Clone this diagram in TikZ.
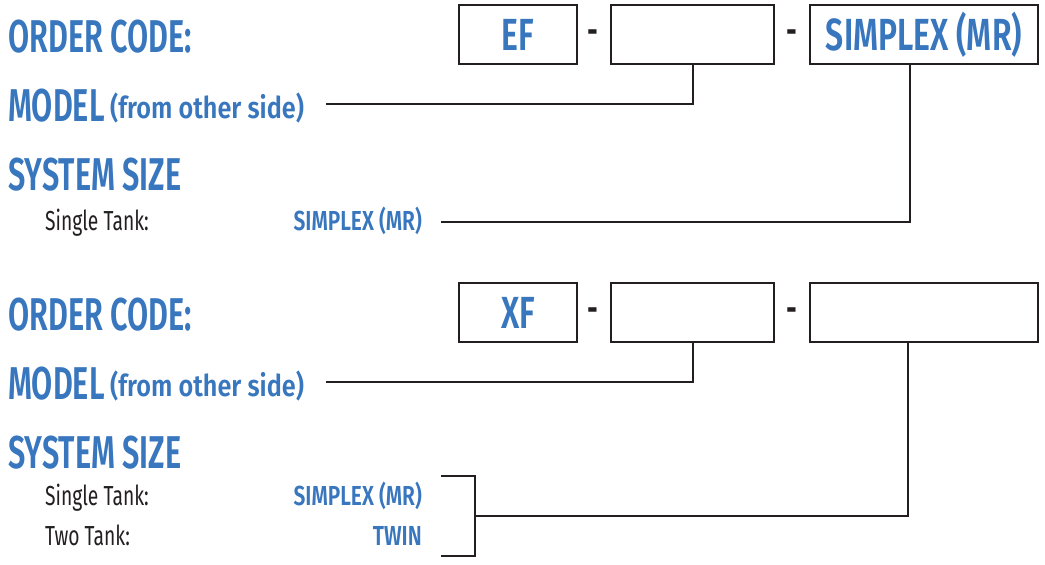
\documentclass[tikz,border=0pt]{standalone}
\usepackage{fontspec}
\setmainfont{Fira Sans}
\newfontfamily\hdfont{Fira Sans SemiBold}[FakeStretch=0.665]
\newfontfamily\subfont{Fira Sans SemiBold}[FakeStretch=0.84]
\newfontfamily\boxfont{Fira Sans SemiBold}[FakeStretch=0.71]
\newfontfamily\optfont{Fira Sans SemiBold}[FakeStretch=0.76]
\newfontfamily\smfont{Fira Sans}[FakeStretch=0.70]
\definecolor{dinblue}{RGB}{56,118,190}
\definecolor{ink}{RGB}{35,31,32}
\begin{document}
\begin{tikzpicture}[x=1pt,y=-1pt,
  hd/.style={font=\hdfont\fontsize{46}{46}\selectfont, text=dinblue, anchor=base west, inner sep=0pt},
  sub/.style={font=\subfont\fontsize{30}{30}\selectfont, text=dinblue, anchor=base west, inner sep=0pt},
  lbl/.style={font=\smfont\fontsize{27.5}{27.5}\selectfont, text=ink, anchor=base west, inner sep=0pt},
  opt/.style={font=\optfont\fontsize{27.5}{27.5}\selectfont, text=dinblue, anchor=base east, inner sep=0pt},
  codebox/.style={draw=ink, line width=2pt, minimum height=59pt, inner sep=0pt,
     font=\boxfont\fontsize{45}{45}\selectfont, text=dinblue, text height=31pt, text depth=0pt},
  sepmark/.style={font=\hdfont\fontsize{40}{40}\selectfont, text=ink, inner sep=0pt},
  conn/.style={draw=ink, line width=2pt}]
\useasboundingbox (0,0) rectangle (1045,565);

% ---------- block 1 ----------
\node[hd] (oc1) at (8,52) {ORDER CODE:};
\node[codebox, minimum width=118pt] (a1) at (518,34.5) {EF};
\node[sepmark] (d1a) at (593,37) {-};
\node[codebox, minimum width=163pt] (a2) at (692.5,34.5) {};
\node[sepmark] (d1b) at (792,37) {-};
\node[codebox, minimum width=228pt] (a3) at (924,34.5) {SIMPLEX (MR)};

\node[hd] (mo1) at (8,121) {MODEL};
\node[sub] (fo1) at (110,118) {(from other side)};
\node[hd] (ss1) at (8,190) {SYSTEM SIZE};
\node[lbl] (st1) at (45,230) {Single Tank:};
\node[opt] (sp1) at (422,230) {SIMPLEX (MR)};

\coordinate (m1) at (326,104);
\coordinate (s1) at (441,222);
\draw[conn] (m1) -| (a2.south);
\draw[conn] (s1) -| ([xshift=-14pt]a3.south);

% ---------- block 2 ----------
\node[hd] (oc2) at (8,330) {ORDER CODE:};
\node[codebox, minimum width=118pt] (b1) at (518,312.5) {XF};
\node[sepmark] (d2a) at (593,315) {-};
\node[codebox, minimum width=163pt] (b2) at (692.5,312.5) {};
\node[sepmark] (d2b) at (792,315) {-};
\node[codebox, minimum width=228pt] (b3) at (924,312.5) {};

\node[hd] (mo2) at (8,399) {MODEL};
\node[sub] (fo2) at (110,396) {(from other side)};
\node[hd] (ss2) at (8,468) {SYSTEM SIZE};
\node[lbl] (st2) at (45,505) {Single Tank:};
\node[opt] (sp2) at (422,505) {SIMPLEX (MR)};
\node[lbl] (tt2) at (45,545) {Two Tank:};
\node[opt] (tw2) at (422,545) {TWIN};

\coordinate (m2) at (326,382);
\draw[conn] (m2) -| (b2.south);
\coordinate (k1) at (441,476);
\coordinate (k2) at (475,476);
\coordinate (k3) at (475,556);
\coordinate (k4) at (441,556);
\coordinate (k5) at (475,516);
\draw[conn] (k1) -- (k2) -- (k3) -- (k4);
\draw[conn] (k5) -| ([xshift=-16pt]b3.south);
\end{tikzpicture}
\end{document}
